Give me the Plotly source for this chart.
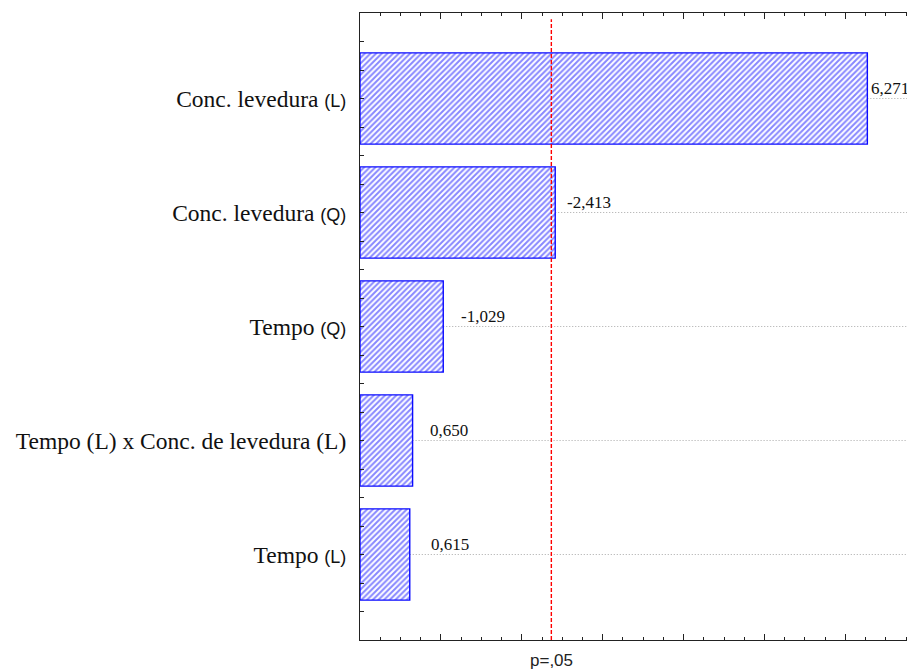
import plotly.graph_objects as go

# ---- data (top to bottom as shown) ----
categories = [
    "Conc. levedura (L)",
    "Conc. levedura (Q)",
    "Tempo (Q)",
    "Tempo (L) x Conc. de levedura (L)",
    "Tempo (L)",
]
effects = [6.271, -2.413, -1.029, 0.650, 0.615]
t_crit = 2.365          # p = .05 reference line
p_label = "p=,05"

# style only: pixel offsets of the value labels from the bar ends
label_shift = [2, 10, 16, 15, 19]

n = len(categories)
ypos = list(range(n - 1, -1, -1))       # top category at highest y
absvals = [abs(v) for v in effects]
val_text = [("%.3f" % v).replace(".", ",") for v in effects]


def fmt_label(c):
    if " x " not in c and (c.endswith("(L)") or c.endswith("(Q)")):
        base, suf = c[:-4], c[-3:]
        return (base + ' <span style="font-family:Liberation Sans;font-size:18px">'
                + suf + "</span>")
    return c


ticktext = [fmt_label(c) for c in categories]

XMAX = 6.86

fig = go.Figure()
fig.add_trace(go.Bar(
    x=absvals, y=ypos, orientation="h", width=0.8,
    marker=dict(
        color="white",
        line=dict(color="#0a0aff", width=1.4),
        pattern=dict(shape="/", fgcolor="#1010ff", bgcolor="white",
                     size=4, solidity=0.5, fillmode="overlay"),
    ),
    hoverinfo="skip", showlegend=False,
))

shapes = []
annotations = []
for v, y, t, s in zip(absvals, ypos, val_text, label_shift):
    shapes.append(dict(type="line", xref="x", yref="y", x0=v, x1=XMAX, y0=y, y1=y,
                       line=dict(color="#a8a8a8", width=1, dash="1px,2px"), layer="below"))
    annotations.append(dict(x=v, y=y, xref="x", yref="y", text=t, showarrow=False,
                            xanchor="left", yanchor="bottom", xshift=s, yshift=-1,
                            font=dict(family="Liberation Serif", size=17, color="#111")))

shapes.append(dict(type="line", xref="x", yref="paper", x0=t_crit, x1=t_crit,
                   y0=0, y1=0.99, line=dict(color="#ff0000", width=1.4, dash="4px,2px")))
annotations.append(dict(x=t_crit, y=0, xref="x", yref="paper", text=p_label,
                        showarrow=False, xanchor="center", yanchor="top", yshift=-9,
                        font=dict(family="Liberation Sans", size=17, color="#222")))

fig.update_layout(
    width=907, height=663,
    margin=dict(l=352, r=0, t=5, b=31),
    paper_bgcolor="white", plot_bgcolor="white",
    shapes=shapes, annotations=annotations,
    xaxis=dict(
        range=[0, XMAX], showgrid=False, zeroline=False,
        showline=True, linecolor="#222", linewidth=1, mirror="ticks",
        ticks="inside", ticklen=6, tickcolor="#222", dtick=1, tick0=0,
        showticklabels=False,
        minor=dict(ticks="inside", ticklen=3, dtick=0.25, tick0=0, tickcolor="#222"),
    ),
    yaxis=dict(
        range=[-0.75, n - 1 + 0.75], showgrid=False, zeroline=False,
        showline=True, linecolor="#222", linewidth=1, mirror=False,
        tickmode="array", tickvals=ypos, ticktext=ticktext,
        ticks="inside", ticklen=4, tickcolor="#222",
        ticklabelstandoff=8,
        tickfont=dict(family="Liberation Serif", size=23.5, color="#111"),
        minor=dict(ticks="inside", ticklen=4, dtick=0.25, tick0=0, tickcolor="#222"),
    ),
)

fig.write_html("out.html")
